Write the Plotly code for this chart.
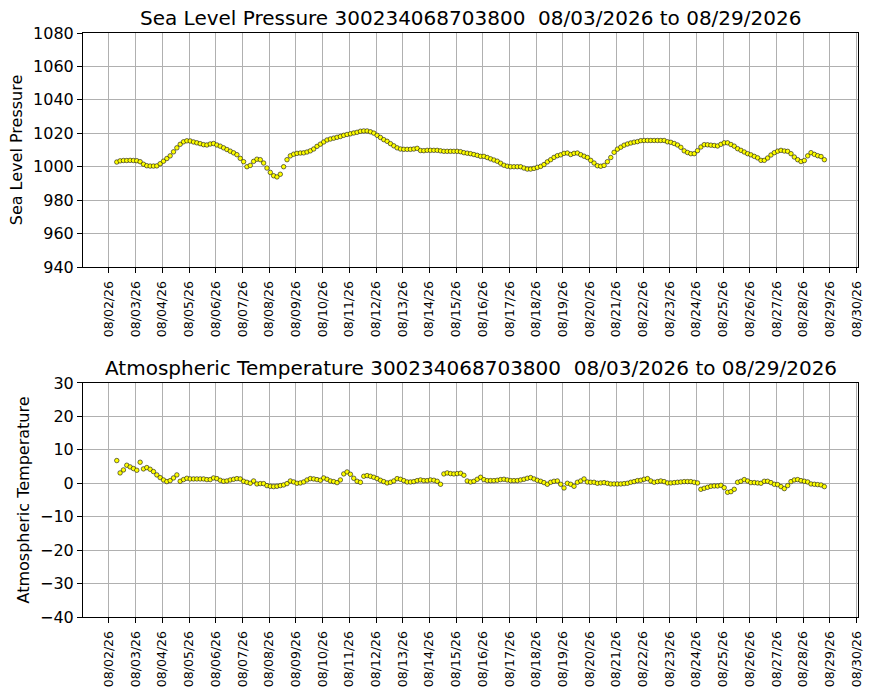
import pandas as pd
import plotly.graph_objects as go
from plotly.subplots import make_subplots

buoy_id = "300234068703800"
first_obs = "2026-08-02 07:00"
obs_step = "3h"

# sea level pressure (hPa), one reading every 3 hours
slp = [
    1002.8, 1003.5, 1003.7, 1003.7, 1003.8, 1003.7, 1003.6, 1003.0, 1001.5, 1000.6,
    1000.4, 1000.4, 1000.5, 1001.8, 1003.3, 1004.9, 1006.5, 1008.9, 1011.3, 1013.4,
    1014.9, 1015.5, 1015.4, 1014.8, 1014.3, 1013.8, 1013.2, 1013.0, 1013.6, 1013.9,
    1013.0, 1012.3, 1011.3, 1010.3, 1009.3, 1008.3, 1007.2, 1005.0, 1003.0, 1000.0,
    1000.8, 1003.2, 1004.5, 1004.2, 1002.2, 999.2, 996.6, 994.6, 993.9, 995.5,
    1000.0, 1004.2, 1006.5, 1007.5, 1008.0, 1008.2, 1008.3, 1008.8, 1009.5, 1010.6,
    1012.2, 1013.5, 1014.8, 1016.0, 1016.6, 1017.1, 1017.6, 1018.1, 1018.8, 1019.3,
    1019.7, 1020.2, 1020.6, 1021.2, 1021.4, 1021.4, 1020.9, 1020.1, 1018.8, 1017.5,
    1016.2, 1015.2, 1013.8, 1012.5, 1011.3, 1010.6, 1010.4, 1010.4, 1010.4, 1010.6,
    1011.0, 1009.7, 1009.6, 1009.8, 1009.8, 1009.8, 1009.8, 1009.5, 1009.2, 1009.2,
    1009.2, 1009.2, 1009.2, 1009.0, 1008.4, 1008.1, 1007.8, 1007.3, 1006.8, 1006.2,
    1006.2, 1005.5, 1004.7, 1004.0, 1003.3, 1002.1, 1000.9, 1000.3, 1000.0, 1000.0,
    1000.0, 1000.0, 999.2, 998.6, 998.6, 999.0, 999.6, 1000.2, 1001.3, 1002.9,
    1004.2, 1005.6, 1006.6, 1007.1, 1008.0, 1008.2, 1007.3, 1008.0, 1008.2, 1007.2,
    1006.3, 1005.5, 1003.8, 1002.2, 1000.6, 1000.3, 1000.8, 1003.0, 1005.5, 1008.6,
    1010.5, 1011.7, 1012.9, 1013.6, 1014.2, 1014.7, 1015.0, 1015.6, 1015.7, 1015.7,
    1015.7, 1015.7, 1015.7, 1015.7, 1015.7, 1014.9, 1014.6, 1013.9, 1013.0, 1011.6,
    1009.5, 1008.5, 1007.8, 1007.8, 1009.6, 1011.8, 1013.2, 1013.1, 1012.9, 1012.7,
    1012.4, 1013.4, 1014.3, 1014.3, 1013.3, 1012.3, 1010.8, 1009.8, 1008.8, 1007.8,
    1007.1, 1006.2, 1005.3, 1003.8, 1003.8, 1005.2, 1007.0, 1008.4, 1009.3, 1009.8,
    1009.4, 1009.2, 1007.8, 1005.8, 1004.2, 1003.1, 1003.7, 1006.5, 1008.4, 1007.4,
    1006.6, 1006.1, 1004.2,
]

# air temperature (deg C), same times
air_temp = [
    6.8, 3.1, 4.0, 5.4, 4.9, 4.4, 3.9, 6.3, 4.3, 4.7,
    4.2, 3.5, 2.5, 1.7, 1.0, 0.5, 0.8, 1.6, 2.5, 0.6,
    1.1, 1.5, 1.3, 1.3, 1.3, 1.3, 1.3, 1.1, 1.1, 1.6,
    1.4, 0.9, 0.6, 0.7, 1.0, 1.2, 1.4, 1.3, 0.6, 0.3,
    0.0, 0.7, -0.2, -0.1, -0.1, -0.7, -0.9, -1.0, -0.9, -0.7,
    -0.5, -0.1, 0.7, 0.4, 0.0, 0.1, 0.4, 1.0, 1.4, 1.3,
    1.1, 0.9, 1.6, 1.2, 0.7, 0.5, 0.2, 1.0, 2.8, 3.4,
    2.7, 1.5, 0.6, 0.3, 2.1, 2.3, 2.1, 1.8, 1.4, 0.9,
    0.5, 0.1, 0.3, 0.7, 1.4, 1.2, 0.8, 0.4, 0.4, 0.5,
    0.8, 1.0, 0.8, 0.8, 1.0, 0.9, 0.6, -0.3, 2.8, 3.1,
    2.9, 2.8, 2.9, 3.0, 2.4, 0.7, 0.4, 0.6, 1.2, 1.8,
    1.1, 0.8, 0.8, 0.8, 0.9, 1.1, 1.2, 1.0, 0.8, 0.8,
    0.8, 1.0, 1.2, 1.5, 1.7, 1.3, 0.9, 0.6, 0.2, -0.3,
    0.3, 0.6, 0.7, -0.3, -1.4, 0.0, -0.3, -0.9, 0.3, 0.7,
    1.3, 0.4, 0.3, 0.3, 0.0, 0.1, 0.2, 0.0, -0.2, -0.2,
    -0.2, -0.2, -0.1, 0.0, 0.3, 0.5, 0.8, 0.9, 1.2, 1.4,
    0.7, 0.3, 0.5, 0.7, 0.5, 0.1, 0.1, 0.2, 0.3, 0.4,
    0.5, 0.5, 0.5, 0.3, 0.1, -1.8, -1.5, -1.2, -0.9, -0.8,
    -0.8, -0.6, -1.3, -2.7, -2.5, -1.8, 0.3, 0.6, 1.1, 0.7,
    0.2, 0.2, 0.1, 0.0, 0.6, 0.6, 0.2, -0.3, -0.4, -1.0,
    -1.6, -0.7, 0.5, 1.0, 1.1, 0.8, 0.6, 0.4, -0.2, -0.3,
    -0.4, -0.5, -1.0,
]

times = pd.date_range(first_obs, periods=len(slp), freq=obs_step)

title_top = f"Sea Level Pressure {buoy_id}\u00a0 08/03/2026 to 08/29/2026"
title_bot = f"Atmospheric Temperature {buoy_id}\u00a0 08/03/2026 to 08/29/2026"

fig = make_subplots(rows=2, cols=1, vertical_spacing=0.2)

mk = dict(color="yellow", size=4.5, line=dict(color="#111111", width=0.6))
fig.add_trace(go.Scatter(x=times, y=slp, mode="markers", marker=mk), row=1, col=1)
fig.add_trace(go.Scatter(x=times, y=air_temp, mode="markers", marker=mk), row=2, col=1)

ax_common = dict(showline=True, mirror=True, linecolor="black", linewidth=1,
                 ticks="outside", ticklen=5, tickcolor="black", automargin=False,
                 showgrid=True, gridcolor="#b0b0b0", gridwidth=1, zeroline=False)

xr = ["2026-08-01 00:39", "2026-08-30 01:14"]
for r in (1, 2):
    fig.update_xaxes(range=xr, type="date", tick0="2026-08-02", dtick=86400000,
                     tickformat="%m/%d/%y", tickangle=-90, ticklabelstandoff=3,
                     tickfont=dict(size=12.5, color="black"), row=r, col=1, **ax_common)

fig.update_yaxes(range=[940, 1080], dtick=20, tickfont=dict(size=16, color="black"),
                 title=dict(text="Sea Level Pressure", font=dict(size=16, color="black"), standoff=6),
                 row=1, col=1, **ax_common)
fig.update_yaxes(range=[-40, 30], dtick=10, tickfont=dict(size=16, color="black"),
                 title=dict(text="Atmospheric Temperature", font=dict(size=16, color="black"), standoff=6),
                 row=2, col=1, **ax_common)

fig.update_layout(
    width=875, height=700,
    margin=dict(l=83, r=17, t=33, b=83),
    paper_bgcolor="white", plot_bgcolor="white",
    showlegend=False,
    font=dict(family="DejaVu Sans", color="black"),
    yaxis=dict(domain=[0.5993, 1.0]),
    yaxis2=dict(domain=[0.0, 0.4007]),
    annotations=[
        dict(text=title_top, x=0.5, y=1.0257, xref="paper", yref="paper",
             xanchor="center", yanchor="middle", showarrow=False, font=dict(size=20)),
        dict(text=title_bot, x=0.5, y=0.4264, xref="paper", yref="paper",
             xanchor="center", yanchor="middle", showarrow=False, font=dict(size=20)),
    ],
)

# drop the default 8px page margin so the figure sits at the window corner
fig.write_html("out.html", config={"displayModeBar": False},
               post_script="document.body.style.margin='0';")
